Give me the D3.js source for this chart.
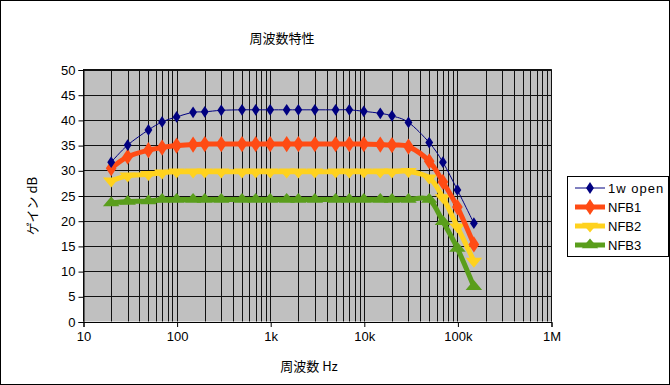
<!DOCTYPE html>
<html>
<head>
<meta charset="utf-8">
<script src="https://cdn.jsdelivr.net/npm/d3@7"></script>
<style>
  body { margin: 0; background: #fff; }
  text { font-family: "Liberation Sans", Arial, "Noto Sans CJK JP", sans-serif; }
  text.jp { font-family: "Noto Sans CJK JP", sans-serif; }
</style>
</head>
<body>
<svg id="chart" width="670" height="385"></svg>
<script>
// ---------- data ---------- //
var freqs = [20, 30, 50, 70, 100, 150, 200, 300, 500, 700, 1000, 1500, 2000, 3000,
             5000, 7000, 10000, 15000, 20000, 30000, 50000, 70000, 100000, 150000];

var open1w = [31.6, 35.0, 38.0, 39.6, 40.6, 41.5, 41.6, 41.9, 42.0, 42.0, 42.0, 42.0,
              42.0, 42.0, 42.0, 42.0, 41.7, 41.3, 40.8, 39.5, 35.5, 31.6, 26.1, 19.5];
var nfb1 = [30.4, 32.7, 34.0, 34.5, 34.9, 35.1, 35.2, 35.2, 35.2, 35.2, 35.2, 35.2,
            35.2, 35.2, 35.2, 35.2, 35.2, 35.1, 35.0, 34.7, 31.8, 27.7, 22.7, 15.3];
var nfb2 = [27.9, 28.9, 29.2, 29.5, 29.7, 29.7, 29.7, 29.7, 29.7, 29.7, 29.7, 29.7,
            29.7, 29.7, 29.7, 29.7, 29.7, 29.7, 29.7, 29.8, 28.5, 24.6, 18.8, 12.0];
var nfb3 = [23.5, 23.8, 23.9, 24.2, 24.2, 24.2, 24.2, 24.2, 24.2, 24.2, 24.2, 24.2,
            24.2, 24.2, 24.2, 24.2, 24.2, 24.2, 24.2, 24.2, 24.2, 19.8, 14.5, 6.9];

var seriesNames = ["1w open", "NFB1", "NFB2", "NFB3"];
var yTicks = [0, 5, 10, 15, 20, 25, 30, 35, 40, 45, 50];
var xTickVals = [10, 100, 1000, 10000, 100000, 1000000];
var xTickLabels = ["10", "100", "1k", "10k", "100k", "1M"];

// ---------- canvas ---------- //
var width = 670, height = 385;
var svg = d3.select("#chart");

// outer frame
svg.append("rect")
    .attr("x", 0.5).attr("y", 0.5)
    .attr("width", width - 1).attr("height", height - 1)
    .attr("fill", "#fff").attr("stroke", "#000");

var plotL = 83, plotR = 551, plotT = 69.5, plotB = 321.5;

var x = d3.scaleLog().domain([10, 1000000]).range([plotL, plotR]);
var y = d3.scaleLinear().domain([0, 50]).range([plotB, plotT]);

// plot area
svg.append("rect")
    .attr("x", plotL).attr("y", plotT)
    .attr("width", plotR - plotL).attr("height", plotB - plotT)
    .attr("fill", "#c0c0c0");

// grid lines
var minorVals = [];
for (var d = 10; d < 1000000; d *= 10) {
  for (var m = 1; m < 10; m++) minorVals.push(d * m);
}
minorVals.push(1000000);

svg.append("g").selectAll("line").data(minorVals).join("line")
    .attr("x1", function(v){ return Math.round(x(v)) + 0.5; })
    .attr("x2", function(v){ return Math.round(x(v)) + 0.5; })
    .attr("y1", plotT).attr("y2", plotB)
    .attr("stroke", "#111").attr("stroke-width", 1);

svg.append("g").selectAll("line").data(yTicks).join("line")
    .attr("x1", plotL).attr("x2", plotR)
    .attr("y1", function(v){ return Math.round(y(v)) + 0.5; })
    .attr("y2", function(v){ return Math.round(y(v)) + 0.5; })
    .attr("stroke", "#111").attr("stroke-width", 1);

// axes
var yAxis = d3.axisLeft(y).tickValues(yTicks).tickSize(5).tickPadding(3);
var gy = svg.append("g").attr("transform", "translate(" + (plotL + 0.5) + ",0.5)").call(yAxis);
gy.selectAll("text").attr("font-size", "13px").attr("fill", "#000");
gy.select(".domain").attr("stroke", "#000");

var xAxis = d3.axisBottom(x).tickValues(xTickVals).tickSize(5).tickPadding(5)
    .tickFormat(function(v, i){ return xTickLabels[i]; });
var gx = svg.append("g").attr("transform", "translate(0.5," + (plotB + 0.5) + ")").call(xAxis);
gx.selectAll("text").attr("font-size", "13px").attr("fill", "#000");
gx.select(".domain").attr("stroke", "#000");

// plot border top / right
svg.append("line").attr("x1", plotL).attr("x2", plotR + 0.5)
    .attr("y1", plotT).attr("y2", plotT).attr("stroke", "#111");
svg.append("line").attr("x1", plotR + 0.5).attr("x2", plotR + 0.5)
    .attr("y1", plotT).attr("y2", plotB).attr("stroke", "#111");

// ---------- series ---------- //
var series = [
  { name: seriesNames[0], vals: open1w, color: "#000080", width: 1, marker: "diamond", size: 40 },
  { name: seriesNames[1], vals: nfb1,   color: "#ff4b14", width: 5, marker: "diamond", size: 75 },
  { name: seriesNames[2], vals: nfb2,   color: "#ffd21e", width: 5, marker: "down",    size: 70 },
  { name: seriesNames[3], vals: nfb3,   color: "#5a9e1c", width: 5, marker: "up",      size: 70 }
];

var line = d3.line()
    .x(function(d){ return x(d[0]); })
    .y(function(d){ return y(d[1]); })
    .curve(d3.curveCardinal);

function markerPath(s) {
  var type = s.marker === "diamond" ? d3.symbolDiamond : d3.symbolTriangle;
  return d3.symbol().type(type).size(s.size)();
}

function markerTransform(s, px, py) {
  return "translate(" + px + "," + py + ")" +
         (s.marker === "down" ? " rotate(180)" : "") +
         (s.marker === "diamond" ? " scale(1.15,1)" : " scale(1.3,0.9)");
}

// draw from last to first so the thin open-loop line sits on top
series.slice().reverse().forEach(function(s){
  var pts = freqs.map(function(f, i){ return [f, s.vals[i]]; });
  svg.append("path")
      .datum(pts)
      .attr("d", line)
      .attr("fill", "none")
      .attr("stroke", s.color)
      .attr("stroke-width", s.width)
      .attr("stroke-linejoin", "round");
  svg.append("g").selectAll("path").data(pts).join("path")
      .attr("d", markerPath(s))
      .attr("transform", function(d){ return markerTransform(s, x(d[0]), y(d[1])); })
      .attr("fill", s.color);
});

// ---------- titles ---------- //
svg.append("text").attr("class", "jp")
    .attr("x", 282).attr("y", 43)
    .attr("text-anchor", "middle").attr("font-size", "13px")
    .text("周波数特性");

svg.append("text").attr("class", "jp")
    .attr("x", 309).attr("y", 371)
    .attr("text-anchor", "middle").attr("font-size", "13px")
    .text("周波数 Hz");

svg.append("text").attr("class", "jp")
    .attr("transform", "translate(37,206) rotate(-90)")
    .attr("text-anchor", "middle").attr("font-size", "13px")
    .text("ゲイン dB");

// ---------- legend ---------- //
var legend = svg.append("g");
legend.append("rect")
    .attr("x", 567.5).attr("y", 176.5)
    .attr("width", 101).attr("height", 80)
    .attr("fill", "#fff").attr("stroke", "#000");

series.forEach(function(s, i){
  var ly = 188 + i * 19;
  legend.append("line")
      .attr("x1", 575).attr("x2", 605)
      .attr("y1", ly).attr("y2", ly)
      .attr("stroke", s.color).attr("stroke-width", s.width);
  legend.append("path")
      .attr("d", markerPath(s))
      .attr("transform", markerTransform(s, 590, ly))
      .attr("fill", s.color);
  legend.append("text")
      .attr("x", 608).attr("y", ly + 5)
      .attr("font-size", "13px")
      .attr("letter-spacing", i === 0 ? "1px" : "0px")
      .text(s.name);
});
</script>
</body>
</html>
